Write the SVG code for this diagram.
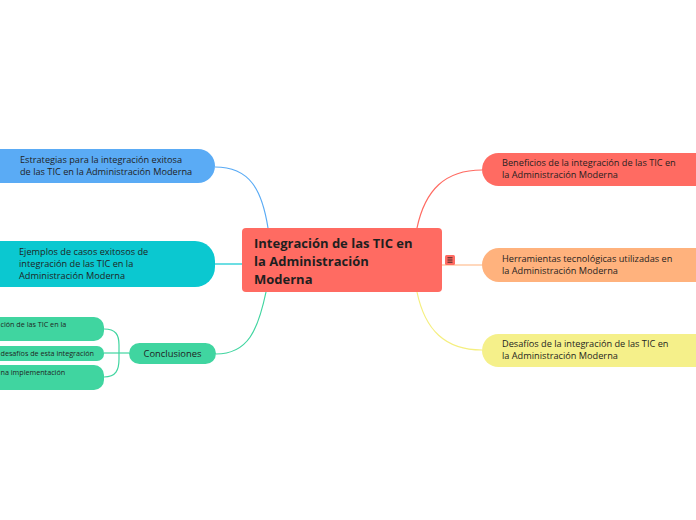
<svg xmlns="http://www.w3.org/2000/svg" width="696" height="520" viewBox="0 0 696 520">
<style>
text{font-family:"Open Sans","Noto Sans","DejaVu Sans",sans-serif;fill:#1f1f1f}
.t{font-size:9.2px}
.s{font-size:7.2px}
.c{fill:none;stroke-width:1.2}
</style>
<rect width="696" height="520" fill="#ffffff"/>
<g id="connectors">
<path class="c" stroke="#5aabf5" d="M268,228 C262,190 250,167 215,167"/>
<path class="c" stroke="#0bc8d0" d="M242,264 L215,264"/>
<path class="c" stroke="#40d5a0" d="M266,292 C258,330 248,354 216,354"/>
<path class="c" stroke="#ff6b62" d="M417,228 C425,190 445,170 482,170"/>
<path class="c" stroke="#ffb27d" d="M442,265 L482,265"/>
<path class="c" stroke="#f5ef7f" d="M417,292 C425,330 445,350 482,350"/>
<path class="c" stroke="#40d5a0" d="M129,353 L104,353"/>
<path class="c" stroke="#40d5a0" d="M104,329 C116,329 119,335 119,345 L119,359 C119,370 116,377 104,377"/>
</g>
<g id="central">
<rect x="242" y="228" width="200" height="64" rx="4" fill="#ff6b62"/>
<text x="254" y="248" font-size="13" font-weight="bold">Integración de las TIC en</text>
<text x="254" y="266" font-size="13" font-weight="bold">la Administración</text>
<text x="254" y="284" font-size="13" font-weight="bold">Moderna</text>
<rect x="445" y="255" width="10" height="10" rx="1.5" fill="#ff6b62"/>
<path d="M447.5,257.8h5M447.5,260h5M447.5,262.2h5" stroke="#1f1f1f" stroke-width="0.9"/>
</g>
<g id="beneficios">
<rect x="482" y="153" width="230" height="33" rx="16.5" fill="#ff6b62"/>
<text class="t" x="502" y="166">Beneficios de la integración de las TIC en</text>
<text class="t" x="502" y="178">la Administración Moderna</text>
</g>
<g id="herramientas">
<rect x="482" y="248" width="230" height="34" rx="17" fill="#ffb27d"/>
<text class="t" x="502" y="262">Herramientas tecnológicas utilizadas en</text>
<text class="t" x="502" y="274">la Administración Moderna</text>
</g>
<g id="desafios">
<rect x="482" y="334" width="230" height="33" rx="16.5" fill="#f5f08a"/>
<text class="t" x="502" y="347">Desafíos de la integración de las TIC en</text>
<text class="t" x="502" y="359">la Administración Moderna</text>
</g>
<g id="estrategias">
<rect x="-20" y="149" width="235" height="34" rx="17" fill="#5aabf5"/>
<text class="t" x="20" y="163">Estrategias para la integración exitosa</text>
<text class="t" x="20" y="175">de las TIC en la Administración Moderna</text>
</g>
<g id="ejemplos">
<rect x="-20" y="241" width="235" height="46" rx="20" fill="#0bc8d0"/>
<text class="t" x="19" y="255">Ejemplos de casos exitosos de</text>
<text class="t" x="19" y="267">integración de las TIC en la</text>
<text class="t" x="19" y="279">Administración Moderna</text>
</g>
<g id="conclusiones">
<rect x="129" y="343" width="87" height="21" rx="10.5" fill="#40d5a0"/>
<text x="172.5" y="357.3" font-size="9.4" text-anchor="middle">Conclusiones</text>
</g>
<g id="sub1">
<rect x="-60" y="317" width="164" height="24" rx="10" fill="#40d5a0"/>
<text class="s" x="0.5" y="327">ción de las TIC en la</text>
</g>
<g id="sub2">
<rect x="-60" y="346" width="164" height="15" rx="7" fill="#40d5a0"/>
<text class="s" x="0.5" y="356">desafíos de esta integración</text>
</g>
<g id="sub3">
<rect x="-60" y="365" width="164" height="25" rx="10" fill="#40d5a0"/>
<text class="s" x="0.5" y="375">na implementación</text>
</g>
</svg>
